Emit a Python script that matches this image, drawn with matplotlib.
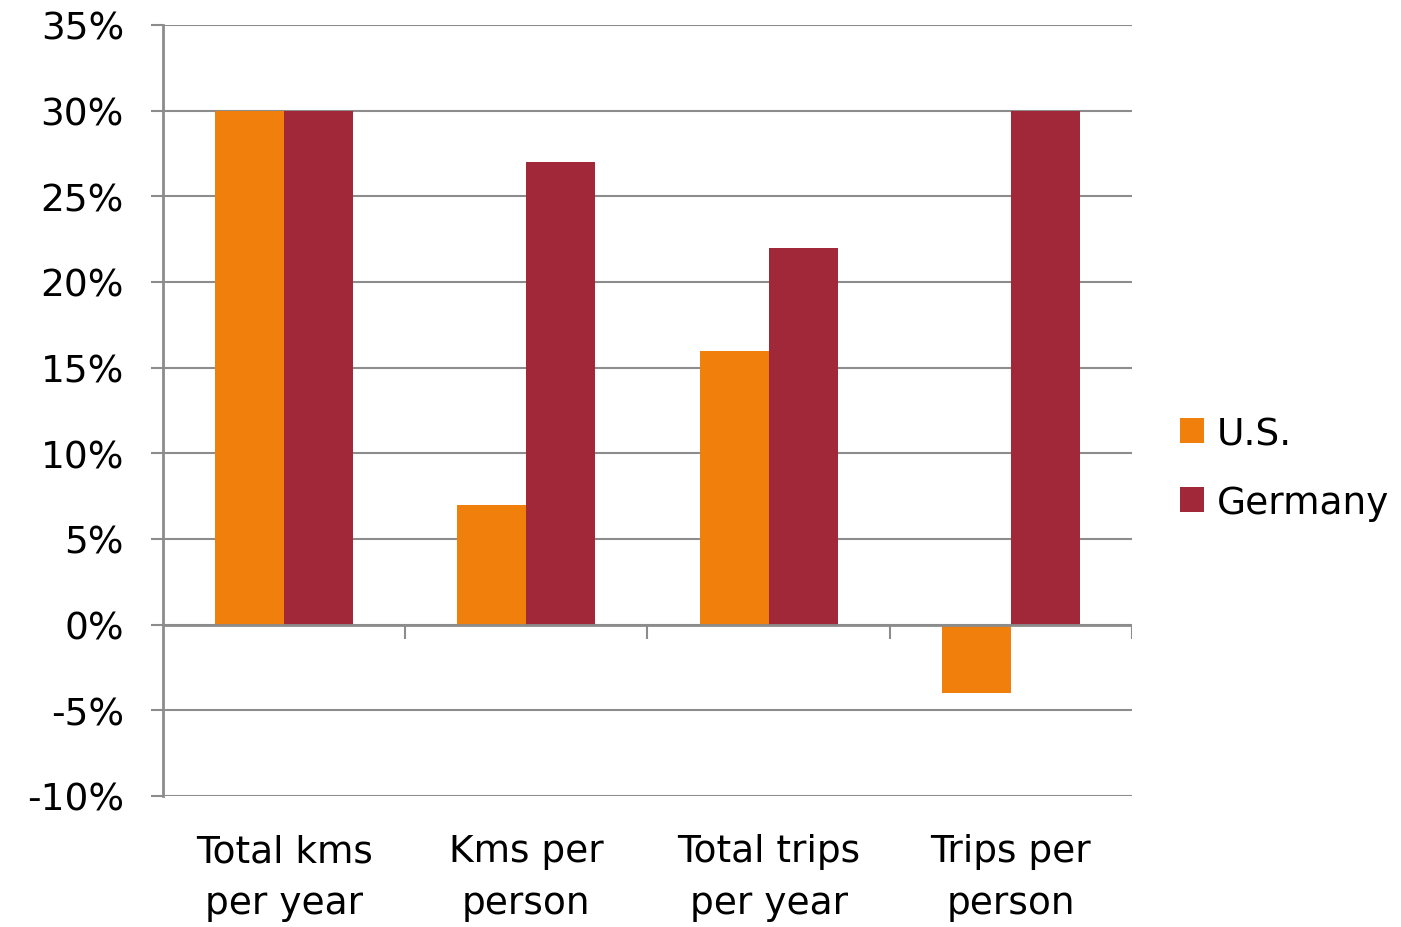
import matplotlib
matplotlib.use('Agg')
from matplotlib import pyplot as plt
import numpy as np

categories = ['Total kms\nper year', 'Kms per\nperson', 'Total trips\nper year', 'Trips per\nperson']
us = [30, 7, 16, -4]
germany = [30, 27, 22, 30]
yticks = [-10, -5, 0, 5, 10, 15, 20, 25, 30, 35]

orange = '#F07F0B'
red = '#A12838'
grey = '#8C8C8C'

plt.rcParams['font.family'] = ['DejaVu Sans']
plt.rcParams['font.size'] = 27

fig = plt.figure(figsize=(14.01, 9.28), dpi=100)
ax = fig.add_axes([0.1163, 0.1412, 0.6917, 0.8308])

x = np.arange(len(categories))
w = 0.285
ax.bar(x - w / 2, us, w, color=orange, label='U.S.', zorder=3)
ax.bar(x + w / 2, germany, w, color=red, label='Germany', zorder=3)

ax.set_xlim(-0.5, len(categories) - 0.5)
ax.set_ylim(-10, 35)
ax.set_yticks(yticks)
ax.set_yticklabels([f'{t}%' for t in yticks])
ax.yaxis.grid(True, color=grey, linewidth=1.5, zorder=0)
ax.axhline(0, color=grey, linewidth=2, zorder=4)
ax.vlines(x[1:] - 0.5, -0.85, 0, color=grey, linewidth=1.5, zorder=4)
ax.vlines([len(categories) - 0.5], -0.85, 0, color=grey, linewidth=1.5, zorder=4)

ax.set_xticks(x)
ax.set_xticklabels(categories, linespacing=1.55)
ax.tick_params(axis='x', length=0, pad=27)
ax.tick_params(axis='y', length=9, width=1.5, color=grey, pad=19)

for s in ['top', 'right', 'bottom']:
    ax.spines[s].set_visible(False)
ax.spines['left'].set_color(grey)
ax.spines['left'].set_linewidth(2)

fig.legend(loc='center left', bbox_to_anchor=(0.842, 0.494), frameon=False,
           handlelength=0.65, handleheight=0.65, handletextpad=0.35,
           labelspacing=0.88, borderaxespad=0, borderpad=0)

fig.savefig('out.png', dpi=100)
